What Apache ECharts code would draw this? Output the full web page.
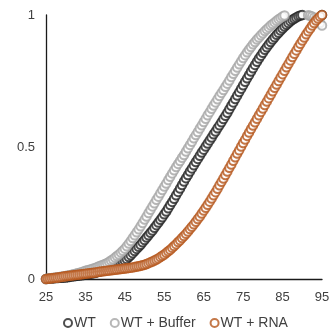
<!DOCTYPE html>
<html>
<head>
<meta charset="utf-8">
<script src="https://cdn.jsdelivr.net/npm/echarts@6/dist/echarts.min.js"></script>
<style>
html,body{margin:0;padding:0;background:#fff;}
#c{width:333px;height:334px;}
</style>
</head>
<body>
<div id="c"></div>
<script>
var temps = [25,25.5,26,26.5,27,27.5,28,28.5,29,29.5,30,30.5,31,31.5,32,32.5,33,33.5,34,34.5,
35,35.5,36,36.5,37,37.5,38,38.5,39,39.5,40,40.5,41,41.5,42,42.5,43,43.5,44,44.5,
45,45.5,46,46.5,47,47.5,48,48.5,49,49.5,50,50.5,51,51.5,52,52.5,53,53.5,54,54.5,
55,55.5,56,56.5,57,57.5,58,58.5,59,59.5,60,60.5,61,61.5,62,62.5,63,63.5,64,64.5,
65,65.5,66,66.5,67,67.5,68,68.5,69,69.5,70,70.5,71,71.5,72,72.5,73,73.5,74,74.5,
75,75.5,76,76.5,77,77.5,78,78.5,79,79.5,80,80.5,81,81.5,82,82.5,83,83.5,84,84.5,
85,85.5,86,86.5,87,87.5,88,88.5,89,89.5,90,90.5,91,91.5,92,92.5,93,93.5,94,94.5,95];

var wt = [0.000,0.001,0.002,0.002,0.003,0.004,0.004,0.005,0.005,0.006,
0.006,0.007,0.008,0.009,0.010,0.011,0.012,0.013,0.014,0.015,
0.016,0.018,0.019,0.021,0.022,0.024,0.026,0.028,0.030,0.032,
0.035,0.037,0.040,0.043,0.046,0.049,0.052,0.056,0.060,0.065,
0.070,0.076,0.083,0.090,0.098,0.106,0.114,0.122,0.130,0.139,
0.148,0.157,0.166,0.175,0.184,0.194,0.204,0.214,0.224,0.234,
0.245,0.256,0.268,0.280,0.292,0.304,0.317,0.330,0.343,0.356,
0.369,0.382,0.394,0.407,0.419,0.431,0.443,0.455,0.467,0.479,
0.490,0.502,0.513,0.525,0.536,0.548,0.559,0.571,0.582,0.594,
0.606,0.618,0.630,0.643,0.656,0.669,0.682,0.695,0.708,0.721,
0.734,0.747,0.760,0.773,0.786,0.798,0.811,0.823,0.835,0.846,
0.857,0.868,0.878,0.888,0.898,0.907,0.916,0.925,0.933,0.941,
0.949,0.956,0.963,0.970,0.976,0.982,0.987,0.991,0.995,0.998,
1.000,1.002,1.003,1.004,1.004,1.004,1.004,1.003,1.002,1.001,1.000];

var wtBuffer = [0.000,0.002,0.003,0.004,0.005,0.006,0.007,0.008,0.009,0.010,
0.011,0.013,0.014,0.016,0.018,0.020,0.022,0.024,0.026,0.028,
0.031,0.033,0.035,0.037,0.040,0.042,0.045,0.048,0.051,0.054,
0.057,0.061,0.065,0.070,0.075,0.081,0.087,0.093,0.100,0.107,
0.115,0.124,0.134,0.144,0.155,0.166,0.177,0.188,0.200,0.212,
0.225,0.237,0.250,0.262,0.275,0.287,0.300,0.312,0.325,0.337,
0.350,0.362,0.375,0.387,0.400,0.412,0.424,0.436,0.447,0.459,
0.470,0.483,0.495,0.508,0.520,0.533,0.545,0.557,0.570,0.582,
0.595,0.607,0.620,0.632,0.645,0.657,0.669,0.681,0.693,0.705,
0.716,0.728,0.740,0.752,0.765,0.777,0.789,0.801,0.813,0.825,
0.837,0.848,0.859,0.869,0.879,0.889,0.898,0.907,0.915,0.923,
0.931,0.939,0.946,0.953,0.960,0.966,0.972,0.978,0.984,0.989,
0.994,0.998,1.001,1.003,1.005,1.006,1.006,1.006,1.006,1.005,
1.004,1.003,1.001,0.999,0.997,0.994,0.990,0.985,0.978,0.970,0.960];

var wtRna = [0.000,0.001,0.002,0.003,0.004,0.005,0.006,0.007,0.008,0.009,
0.010,0.011,0.012,0.013,0.014,0.015,0.016,0.017,0.018,0.019,
0.020,0.021,0.022,0.023,0.024,0.025,0.026,0.027,0.028,0.029,
0.030,0.031,0.032,0.033,0.034,0.035,0.036,0.037,0.038,0.039,
0.040,0.041,0.042,0.043,0.044,0.045,0.047,0.048,0.050,0.052,
0.054,0.057,0.060,0.063,0.066,0.070,0.074,0.078,0.083,0.088,
0.093,0.099,0.105,0.111,0.118,0.125,0.132,0.140,0.147,0.155,
0.163,0.171,0.180,0.189,0.198,0.207,0.217,0.227,0.237,0.248,
0.259,0.270,0.281,0.293,0.305,0.317,0.329,0.342,0.355,0.368,
0.381,0.394,0.407,0.421,0.434,0.448,0.461,0.475,0.488,0.502,
0.515,0.528,0.542,0.555,0.568,0.581,0.594,0.607,0.620,0.633,
0.646,0.659,0.672,0.685,0.698,0.711,0.724,0.737,0.750,0.763,
0.776,0.789,0.802,0.815,0.828,0.841,0.853,0.866,0.879,0.891,
0.903,0.915,0.927,0.938,0.949,0.960,0.970,0.979,0.987,0.994,1.000];

var seriesNames = ['WT', 'WT + Buffer', 'WT + RNA'];
var seriesColors = ['#222222', '#a5a5a5', '#b5561c'];
var seriesValues = [wt, wtBuffer, wtRna];
var xTickLabels = [25, 35, 45, 55, 65, 75, 85, 95];
var yTickLabels = [0, 0.5, 1];

function pairs(vals) {
  return vals.map(function (v, i) { return [temps[i], v]; });
}

var chart = echarts.init(document.getElementById('c'), null, {renderer: 'canvas'});
var font = 'Liberation Sans, Arial, sans-serif';
chart.setOption({
  animation: false,
  backgroundColor: '#fff',
  grid: {left: 46, right: 11, top: 15, bottom: 55, containLabel: false},
  xAxis: {
    type: 'value', min: 25, max: 95, interval: 5,
    axisLine: {show: true, lineStyle: {color: '#1a1a1a', width: 1.3}},
    axisTick: {show: false},
    splitLine: {show: false},
    axisLabel: {
      color: '#404040', fontSize: 13, fontFamily: font, margin: 12,
      formatter: function (v) { return xTickLabels.indexOf(v) >= 0 ? String(v) : ''; }
    }
  },
  yAxis: {
    type: 'value', min: 0, max: 1, interval: 0.5,
    axisLine: {show: true, lineStyle: {color: '#1a1a1a', width: 1.3}},
    axisTick: {show: false},
    splitLine: {show: false},
    axisLabel: {
      color: '#404040', fontSize: 13, fontFamily: font, margin: 11,
      formatter: function (v) { return yTickLabels.indexOf(v) >= 0 ? String(v) : ''; }
    }
  },
  legend: {
    bottom: -1, left: 58,
    icon: 'emptyCircle', itemWidth: 8, itemHeight: 8, itemGap: 14,
    textStyle: {color: '#404040', fontSize: 14, fontFamily: font, padding: [0, 0, 0, -3]},
    data: seriesNames
  },
  series: seriesNames.map(function (n, k) {
    return {
      name: n, type: 'scatter', symbol: 'emptyCircle', symbolSize: 8.5,
      itemStyle: {color: seriesColors[k], borderColor: seriesColors[k], borderWidth: 1},
      data: pairs(seriesValues[k])
    };
  })
});
</script>
</body>
</html>
